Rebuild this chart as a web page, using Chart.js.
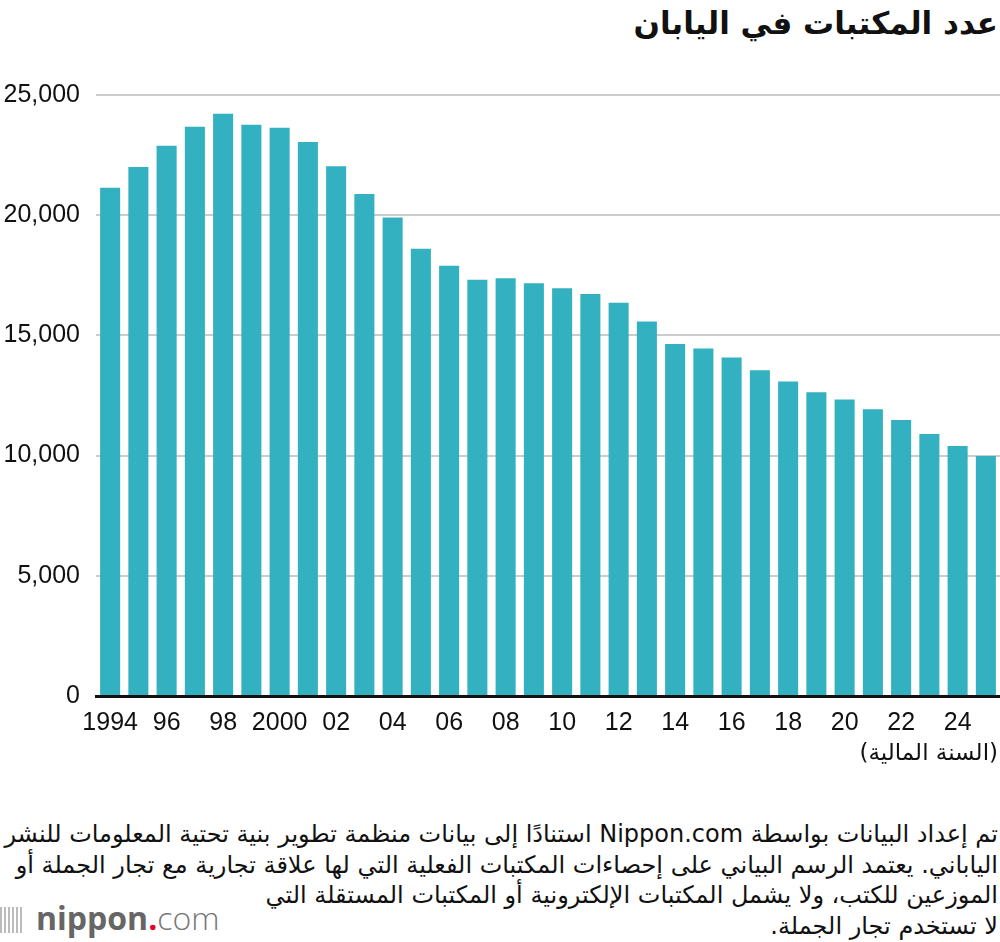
<!DOCTYPE html>
<html lang="ar">
<head>
<meta charset="utf-8">
<script src="https://cdn.jsdelivr.net/npm/chart.js@4"></script>
<style>
    body { margin: 0; background: #fff; }
    #page { position: relative; width: 1000px; height: 942px; overflow: hidden; }
    #title {
        position: absolute; right: 2px; top: 5px;
        font: bold 31px "DejaVu Sans", sans-serif; color: #111;
        direction: rtl; white-space: nowrap;
    }
    #chart-box { position: absolute; left: 0; top: 0; width: 1000px; height: 750px; }
    #axis-title {
        position: absolute; right: 2px; top: 739px;
        font: 23px "DejaVu Sans", sans-serif; color: #111; direction: rtl;
    }
    #note {
        position: absolute; right: 2px; top: 819px;
        font: 24px/30.5px "DejaVu Sans", sans-serif; color: #111;
        direction: rtl; text-align: right; white-space: nowrap;
    }
    #logo {
        position: absolute; left: 0; top: 896px;
        font: 32px "Open Sans", sans-serif; color: #666; white-space: nowrap;
    }
    #logo .bars { display: inline-block; width: 24px; height: 26px; margin-right: 12px; vertical-align: -3px;
        background: repeating-linear-gradient(90deg, #bbb 0 2px, transparent 2px 4px); }
    #logo b { font-weight: 700; }
    #logo .dot { color: #e5002d; font-weight: 700; }
    #logo .com { font-weight: 300; color: #777; }
</style>
</head>
<body>
<div id="page">
    <div id="title">عدد المكتبات في اليابان</div>
    <div id="chart-box"><canvas id="myChart"></canvas></div>
    <div id="axis-title">(السنة المالية)</div>
    <div id="note">
        تم إعداد البيانات بواسطة Nippon.com استنادًا إلى بيانات منظمة تطوير بنية تحتية المعلومات للنشر<br>
        الياباني. يعتمد الرسم البياني على إحصاءات المكتبات الفعلية التي لها علاقة تجارية مع تجار الجملة أو<br>
        الموزعين للكتب، ولا يشمل المكتبات الإلكترونية أو المكتبات المستقلة التي<br>
        لا تستخدم تجار الجملة.
    </div>
    <div id="logo"><span class="bars"></span><b>nippon</b><span class="dot">.</span><span class="com">com</span></div>
</div>
<script>
// fiscal years and number of bookstores
const years = [
    1994, 1995, 1996, 1997, 1998, 1999, 2000, 2001, 2002, 2003, 2004,
    2005, 2006, 2007, 2008, 2009, 2010, 2011, 2012, 2013, 2014, 2015,
    2016, 2017, 2018, 2019, 2020, 2021, 2022, 2023, 2024, 2025
];
const stores = [
    21140, 22010, 22890, 23680, 24220, 23760, 23640, 23050, 22040, 20880, 19900,
    18600, 17900, 17320, 17380, 17170, 16960, 16720, 16360, 15580, 14640, 14450,
    14080, 13550, 13080, 12640, 12330, 11930, 11480, 10900, 10400, 9980
];
const xTickLabels = [
    '1994', '96', '98', '2000', '02', '04', '06', '08',
    '10', '12', '14', '16', '18', '20', '22', '24'
];
const yTicks = [0, 5000, 10000, 15000, 20000, 25000];

const tickFont = { family: '"Liberation Sans", Arial, sans-serif', size: 25 };
const ctx = document.getElementById('myChart').getContext('2d');

new Chart(ctx, {
    type: 'bar',
    data: {
        labels: years,
        datasets: [{
            data: stores,
            backgroundColor: '#33b1c0',
            barPercentage: 0.71,
            categoryPercentage: 1
        }]
    },
    options: {
        responsive: true,
        maintainAspectRatio: false,
        animation: false,
        layout: { padding: { top: 95, right: 0, left: 0, bottom: 0 } },
        plugins: { legend: { display: false }, tooltip: { enabled: false } },
        scales: {
            x: {
                grid: { display: false, drawTicks: false },
                border: { color: '#111', width: 3 },
                ticks: {
                    color: '#111', font: tickFont, padding: 12,
                    autoSkip: false, maxRotation: 0,
                    callback: (v, i) => (i % 2 === 0 ? xTickLabels[i / 2] : '')
                }
            },
            y: {
                min: 0, max: 25000,
                afterFit: (scale) => { scale.width = 96; },
                afterBuildTicks: (scale) => { scale.ticks = yTicks.map(v => ({ value: v })); },
                grid: { color: '#cccccc', lineWidth: 2, drawTicks: false },
                border: { display: false },
                ticks: {
                    color: '#111', font: tickFont, padding: 16,
                    callback: (v) => v.toLocaleString('en-US')
                }
            }
        }
    }
});
</script>
</body>
</html>
